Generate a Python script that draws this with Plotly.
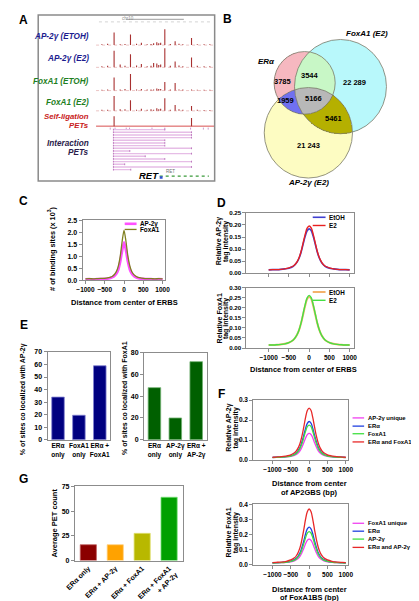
import numpy as np
import plotly.graph_objects as go

W, H = 419, 601
FONT = "Liberation Sans"
FRAME = "#8c8c8c"


def px(x):
    return x / W


def py(y):
    return 1 - y / H


def dx(l, r):
    return [l / W, r / W]


def dy(t, b):
    return [1 - b / H, 1 - t / H]


# ------------------------------------------------------------------ data
# Panel A (genome browser view, positions in kb, signal heights in arbitrary units)
A_peak_kb = [17.7, 34.7, 58.7, 70.3, 81.0, 98.0]
A_ap2_etoh = [12.7, 10.7, 2.0, 16.0, 4.0, 7.3]
A_ap2_e2 = [16.7, 13.3, 4.3, 19.3, 6.0, 10.0]
A_fox_etoh = [13.3, 16.7, 1.0, 8.7, 7.7, 1.0]
A_fox_e2 = [15.0, 10.7, 1.0, 12.7, 6.0, 5.0]
A_selflig = [10.0, 0.0, 0.0, 0.0, 0.0, 8.3]
A_minor_kb = [5, 11, 24, 29, 41, 46, 52, 56, 62, 64, 66, 76, 85, 89, 104, 111, 117]
A_minor_ap2_etoh = [1.0, 1.5, 1.0, 1.2, 1.5, 2.5, 1.0, 1.2, 3.0, 2.0, 2.5, 1.2, 1.5, 1.0, 1.0, 1.0, 0.8]
A_minor_ap2_e2 = [1.2, 1.5, 3.0, 1.5, 2.0, 3.5, 1.2, 1.5, 4.0, 2.5, 3.0, 1.5, 2.0, 1.2, 1.5, 1.0, 1.0]
A_minor_fox_etoh = [0.8, 1.0, 1.0, 1.5, 1.0, 1.5, 1.0, 1.0, 2.0, 1.5, 1.5, 1.0, 1.0, 1.0, 0.8, 0.8, 0.8]
A_minor_fox_e2 = [1.0, 1.2, 1.5, 1.5, 1.2, 2.0, 1.0, 1.5, 2.5, 1.5, 2.0, 1.2, 1.5, 1.0, 1.0, 0.8, 0.8]
A_sl_marks_kb = [13.7, 18.7, 30.3, 33.7, 57.0, 70.3, 97.0, 110.3, 115.3]
A_int_start_kb = [17, 17, 17, 17, 17, 17, 17, 17, 17, 17, 17, 17, 17, 17, 17, 17]
A_int_end_kb = [70.3, 98, 98, 98, 70.3, 70.3, 70.3, 98, 34, 98, 50, 70.3, 98, 28.7, 98, 35]
A_track_labels = ["AP-2γ (ETOH)", "AP-2γ (E2)", "FoxA1 (ETOH)", "FoxA1 (E2)"]

# Panel B (Venn counts)
venn_sets = ["ERα", "FoxA1 (E2)", "AP-2γ (E2)"]
venn_regions = ["ERα only", "ERα+FoxA1", "FoxA1 only", "ERα+AP-2γ", "all three",
                "FoxA1+AP-2γ", "AP-2γ only"]
venn_counts = [3785, 3544, 22289, 1959, 5166, 5461, 21243]

# Panels C, D, F: distance grid (bp)
dist_bp = [-1000, -900, -800, -700, -600, -500, -400, -350, -300, -250, -200, -150, -100, -50, 0,
           50, 100, 150, 200, 250, 300, 350, 400, 500, 600, 700, 800, 900, 1000]
dist_ticks = [-1000, -500, 0, 500, 1000]

# Panel C (# of binding sites x10^3)
C_ap2 = [0.04, 0.05, 0.04, 0.05, 0.05, 0.06, 0.08, 0.10, 0.13, 0.18, 0.27, 0.44, 0.76, 1.22, 1.58,
         1.24, 0.78, 0.45, 0.28, 0.19, 0.13, 0.10, 0.08, 0.06, 0.05, 0.05, 0.04, 0.05, 0.04]
C_fox = [0.06, 0.07, 0.06, 0.07, 0.08, 0.08, 0.11, 0.13, 0.17, 0.24, 0.36, 0.58, 0.98, 1.60, 2.08,
         1.62, 1.00, 0.60, 0.37, 0.25, 0.18, 0.13, 0.11, 0.08, 0.07, 0.07, 0.06, 0.07, 0.06]

# Panel D
D_ap2_etoh = [0.014, 0.015, 0.015, 0.016, 0.018, 0.021, 0.028, 0.035, 0.046, 0.062, 0.087, 0.120, 0.152, 0.176, 0.184,
              0.177, 0.153, 0.121, 0.088, 0.063, 0.046, 0.035, 0.028, 0.021, 0.018, 0.016, 0.015, 0.015, 0.014]
D_ap2_e2 = [0.014, 0.015, 0.015, 0.016, 0.018, 0.022, 0.029, 0.036, 0.047, 0.064, 0.090, 0.125, 0.160, 0.187, 0.196,
            0.188, 0.161, 0.126, 0.091, 0.065, 0.048, 0.036, 0.029, 0.022, 0.018, 0.016, 0.015, 0.015, 0.014]
D_fox_etoh = [0.015, 0.015, 0.016, 0.018, 0.021, 0.027, 0.039, 0.050, 0.066, 0.089, 0.123, 0.166, 0.210, 0.244, 0.255,
              0.245, 0.211, 0.167, 0.124, 0.090, 0.066, 0.050, 0.039, 0.027, 0.021, 0.018, 0.016, 0.015, 0.015]
D_fox_e2 = [0.015, 0.015, 0.016, 0.018, 0.021, 0.027, 0.039, 0.050, 0.066, 0.090, 0.125, 0.170, 0.215, 0.250, 0.262,
            0.251, 0.216, 0.171, 0.126, 0.091, 0.066, 0.050, 0.039, 0.027, 0.021, 0.018, 0.016, 0.015, 0.015]

# Panel E
E_ap2_cats = ["ERα<br>only", "FoxA1<br>only", "ERα +<br>FoxA1"]
E_ap2_vals = [34, 19.5, 59]
E_fox_cats = ["ERα<br>only", "AP-2γ<br>only", "ERα +<br>AP-2γ"]
E_fox_vals = [48, 20, 72]

# Panel F
F_ap2_names = ["AP-2γ unique", "ERα", "FoxA1", "ERα and FoxA1"]
F_ap2_unique = [0.012, 0.013, 0.013, 0.014, 0.016, 0.018, 0.023, 0.028, 0.035, 0.046, 0.063, 0.085, 0.109, 0.127, 0.133,
                0.128, 0.110, 0.086, 0.064, 0.046, 0.035, 0.028, 0.023, 0.018, 0.016, 0.014, 0.013, 0.013, 0.012]
F_ap2_er = [0.013, 0.014, 0.015, 0.016, 0.018, 0.022, 0.029, 0.036, 0.047, 0.063, 0.089, 0.121, 0.157, 0.184, 0.193,
            0.185, 0.158, 0.122, 0.090, 0.064, 0.047, 0.036, 0.029, 0.022, 0.018, 0.016, 0.015, 0.014, 0.013]
F_ap2_fox = [0.012, 0.013, 0.014, 0.015, 0.017, 0.020, 0.027, 0.033, 0.043, 0.058, 0.080, 0.110, 0.142, 0.167, 0.175,
             0.168, 0.143, 0.111, 0.081, 0.058, 0.043, 0.033, 0.027, 0.020, 0.017, 0.015, 0.014, 0.013, 0.012]
F_ap2_erfox = [0.014, 0.015, 0.016, 0.018, 0.021, 0.026, 0.036, 0.046, 0.061, 0.083, 0.117, 0.162, 0.211, 0.248, 0.260,
               0.249, 0.212, 0.163, 0.118, 0.084, 0.061, 0.046, 0.036, 0.026, 0.021, 0.018, 0.016, 0.015, 0.014]
F_fox_names = ["FoxA1 unique", "ERα", "AP-2γ", "ERα and AP-2γ"]
F_fox_unique = [0.012, 0.013, 0.014, 0.014, 0.017, 0.020, 0.026, 0.033, 0.042, 0.056, 0.078, 0.107, 0.138, 0.162, 0.170,
                0.163, 0.139, 0.108, 0.079, 0.056, 0.042, 0.033, 0.026, 0.020, 0.017, 0.014, 0.014, 0.013, 0.012]
F_fox_er = [0.013, 0.014, 0.015, 0.017, 0.020, 0.025, 0.034, 0.044, 0.058, 0.079, 0.113, 0.155, 0.203, 0.238, 0.250,
            0.239, 0.204, 0.156, 0.114, 0.080, 0.058, 0.044, 0.034, 0.025, 0.020, 0.017, 0.015, 0.014, 0.013]
F_fox_ap2 = [0.012, 0.013, 0.014, 0.015, 0.018, 0.022, 0.031, 0.039, 0.052, 0.070, 0.099, 0.137, 0.178, 0.210, 0.220,
             0.211, 0.179, 0.138, 0.100, 0.070, 0.052, 0.039, 0.031, 0.022, 0.018, 0.015, 0.014, 0.013, 0.012]
F_fox_erap2 = [0.014, 0.016, 0.018, 0.019, 0.025, 0.032, 0.046, 0.060, 0.082, 0.114, 0.164, 0.228, 0.299, 0.352, 0.370,
               0.353, 0.300, 0.229, 0.165, 0.115, 0.082, 0.060, 0.046, 0.032, 0.025, 0.019, 0.018, 0.016, 0.014]

# Panel G
G_cats = ["ERα only", "ERα + AP-2γ", "ERα + FoxA1", "ERα + FoxA1<br>+ AP-2γ"]
G_vals = [16, 16, 27.5, 64]

# ------------------------------------------------------------------ styles
NAVY = "#1c1c8f"
DGREEN = "#1f7f1f"
RED = "#c82020"
PURPLE = "#2b1b4b"
MAG = "#f040f0"
BLUE = "#2040e0"
LGREEN = "#40e040"
LRED = "#e82828"

fig = go.Figure()


def add(tr):
    tr.update(showlegend=False, hoverinfo="skip")
    fig.add_trace(tr)


# ------------------------------------------------------------------ Panel A
TRACK_BASE = [33.5, 56.0, 79.5, 100.0, 115.5]
tracks = [A_ap2_etoh, A_ap2_e2, A_fox_etoh, A_fox_e2, A_selflig]
minors = [A_minor_ap2_etoh, A_minor_ap2_e2, A_minor_fox_etoh, A_minor_fox_e2, None]

# top ruler
add(go.Scatter(x=[2, 120], y=[10, 10], mode="lines", line=dict(color="#c8c8c8", width=0.8, dash="dot"),
               xaxis="x", yaxis="y"))
add(go.Scatter(x=[30, 90], y=[7.5, 7.5], mode="lines", line=dict(color="#b0b0b0", width=1.2),
               xaxis="x", yaxis="y"))

for i, (base, hts, mn) in enumerate(zip(TRACK_BASE, tracks, minors)):
    if mn is not None:
        add(go.Scatter(x=[-1, 121], y=[base, base], mode="lines",
                       line=dict(color="#e2aaaa", width=0.7, dash="dot"), xaxis="x", yaxis="y"))
    else:
        add(go.Scatter(x=[-1, 123], y=[base, base], mode="lines",
                       line=dict(color="#d85050", width=1), xaxis="x", yaxis="y"))
    xs, ys = [], []
    for p, h in zip(A_peak_kb, hts):
        if h > 0:
            xs += [p, p, None]
            ys += [base, base - h, None]
    if mn is not None:
        for p, h in zip(A_minor_kb, mn):
            xs += [p, p, None]
            ys += [base, base - h, None]
    add(go.Scatter(x=xs, y=ys, mode="lines", line=dict(color="#a83030", width=1.1), xaxis="x", yaxis="y"))

# self-ligation marks below axis
xs, ys = [], []
for p in A_sl_marks_kb:
    xs += [p, p, None]
    ys += [117, 119, None]
add(go.Scatter(x=xs, y=ys, mode="lines", line=dict(color="#c080c0", width=0.8), xaxis="x", yaxis="y"))

# interaction PETs
xs, ys, mx, my = [], [], [], []
for k, (s, e) in enumerate(zip(A_int_start_kb, A_int_end_kb)):
    yy = 119.0 + k * 2.7
    xs += [s, e, None]
    ys += [yy, yy, None]
    for q in (s, e):
        mx += [q, q, None]
        my += [yy - 0.9, yy + 0.9, None]
add(go.Scatter(x=xs, y=ys, mode="lines", line=dict(color="#e6bde6", width=1.4), xaxis="x", yaxis="y"))
add(go.Scatter(x=mx, y=my, mode="lines", line=dict(color="#b060b0", width=0.8), xaxis="x", yaxis="y"))

# RET gene model
add(go.Scatter(x=[65, 116], y=[166, 166], mode="lines", line=dict(color="#3a9a3a", width=1.2, dash="dot"),
               xaxis="x", yaxis="y"))
add(go.Scatter(x=[65, 68], y=[167.5, 167.5], mode="lines", line=dict(color="#3050d0", width=2.5),
               xaxis="x", yaxis="y"))

# ------------------------------------------------------------------ Panel B (Venn)
CIRC = [(298.3, 71.7, 31.7), (335.5, 75.5, 47.7), (302.2, 122.2, 45.8)]
gx = np.arange(250.25, 410, 0.5)
gy = np.arange(15.25, 180, 0.5)
GX, GY = np.meshgrid(gx, gy)
inE, inF, inA = [((GX - cx) ** 2 + (GY - cy) ** 2) <= r ** 2 for cx, cy, r in CIRC]
code = np.full(GX.shape, np.nan)
code[inE & ~inF & ~inA] = 1
code[inE & inF & ~inA] = 2
code[~inE & inF & ~inA] = 3
code[inE & ~inF & inA] = 4
code[inE & inF & inA] = 5
code[~inE & inF & inA] = 6
code[~inE & ~inF & inA] = 7
VCOL = ["#f6b8c0", "#c8f7c6", "#b8f8fb", "#7070f0", "#b8b8b8", "#b5b000", "#fdfcc2"]
cs = []
for k, c in enumerate(VCOL):
    cs += [[k / 7, c], [(k + 1) / 7, c]]
add(go.Heatmap(x=gx, y=gy, z=code, colorscale=cs, zmin=0.5, zmax=7.5, showscale=False,
               xaxis="x2", yaxis="y2"))
VPOS = [(275.7, 70), (304.3, 64), (350, 71), (278.3, 89.3), (307.3, 87.3), (328.3, 107.3), (302, 135)]

# ------------------------------------------------------------------ Panel C
add(go.Scatter(x=dist_bp, y=C_ap2, mode="lines", line=dict(color="#ff50ff", width=2.6, shape="spline", smoothing=0.6),
               xaxis="x3", yaxis="y3"))
add(go.Scatter(x=dist_bp, y=C_fox, mode="lines", line=dict(color="#7f7f1f", width=1.3, shape="spline", smoothing=0.6),
               xaxis="x3", yaxis="y3"))

# ------------------------------------------------------------------ Panel D
add(go.Scatter(x=dist_bp, y=D_ap2_etoh, mode="lines", line=dict(color="#4040d0", width=1.6, shape="spline"),
               xaxis="x4", yaxis="y4"))
add(go.Scatter(x=dist_bp, y=D_ap2_e2, mode="lines", line=dict(color="#e82020", width=1.4, shape="spline"),
               xaxis="x4", yaxis="y4"))
add(go.Scatter(x=dist_bp, y=D_fox_etoh, mode="lines", line=dict(color="#f4b26a", width=2.0, shape="spline"),
               xaxis="x5", yaxis="y5"))
add(go.Scatter(x=dist_bp, y=D_fox_e2, mode="lines", line=dict(color="#44e044", width=1.4, shape="spline"),
               xaxis="x5", yaxis="y5"))

# ------------------------------------------------------------------ Panel E
add(go.Bar(x=E_ap2_cats, y=E_ap2_vals, width=0.6, marker=dict(color="#000080", line=dict(color="#8080d0", width=0.8)),
           xaxis="x6", yaxis="y6"))
add(go.Bar(x=E_fox_cats, y=E_fox_vals, width=0.6, marker=dict(color="#006000", line=dict(color="#70b070", width=0.8)),
           xaxis="x7", yaxis="y7"))

# ------------------------------------------------------------------ Panel F
FCOL = [MAG, BLUE, LGREEN, LRED]
for ser, c in zip([F_ap2_unique, F_ap2_er, F_ap2_fox, F_ap2_erfox], FCOL):
    add(go.Scatter(x=dist_bp, y=ser, mode="lines", line=dict(color=c, width=1.3, shape="spline"),
                   xaxis="x8", yaxis="y8"))
for ser, c in zip([F_fox_unique, F_fox_er, F_fox_ap2, F_fox_erap2], FCOL):
    add(go.Scatter(x=dist_bp, y=ser, mode="lines", line=dict(color=c, width=1.3, shape="spline"),
                   xaxis="x9", yaxis="y9"))

# ------------------------------------------------------------------ Panel G
G_COL = ["#8b0000", "#ffa200", "#b8b800", "#00a000"]
G_EDGE = ["#c06060", "#ffd080", "#e0e070", "#70e070"]
add(go.Bar(x=G_cats, y=G_vals, width=0.6, marker=dict(color=G_COL, line=dict(color=G_EDGE, width=0.8)),
           xaxis="x10", yaxis="y10"))

# ------------------------------------------------------------------ layout
TF = dict(family=FONT, size=7, color="black", weight="bold")
TFS = dict(family=FONT, size=6.5, color="black", weight="bold")
TFX = dict(family=FONT, size=6.2, color="black", weight="bold")


def ax(domain, rng, anchor, **kw):
    d = dict(domain=domain, range=rng, anchor=anchor, showline=True, mirror=True, linecolor=FRAME,
             linewidth=1, ticks="outside", ticklen=3, tickcolor=FRAME, tickwidth=1, showgrid=False,
             zeroline=False, tickfont=TF, fixedrange=True, tickangle=0)
    d.update(kw)
    return d


layout = dict(
    width=W, height=H, margin=dict(l=0, r=0, t=0, b=0), paper_bgcolor="white", plot_bgcolor="white",
    showlegend=False, font=dict(family=FONT, size=7, color="black"),
    xaxis=dict(domain=dx(22, 205), range=[-61, 122], visible=False, anchor="y", fixedrange=True),
    yaxis=dict(domain=dy(3, 171), range=[171, 3], visible=False, anchor="x", fixedrange=True),
    xaxis2=dict(domain=dx(250, 410), range=[250, 410], visible=False, anchor="y2", fixedrange=True),
    yaxis2=dict(domain=dy(15, 180), range=[180, 15], visible=False, anchor="x2", fixedrange=True),
    xaxis3=ax(dx(68, 154), [-1075, 1075], "y3", tickvals=dist_ticks, tickfont=TFS),
    yaxis3=ax(dy(210.5, 271.5), [0, 2.5], "x3", dtick=0.5, tickformat=".1f"),
    xaxis4=ax(dx(238, 349), [-1548, 1095], "y4", tickvals=dist_ticks, showticklabels=False),
    yaxis4=ax(dy(203.3, 264.3), [0, 0.25], "x4", dtick=0.05, tickformat=".2f", tickfont=TFX),
    xaxis5=ax(dx(238, 349), [-1548, 1095], "y5", tickvals=dist_ticks, tickfont=TFS),
    yaxis5=ax(dy(279, 340), [0, 0.30], "x5", dtick=0.05, tickformat=".2f", tickfont=TFX),
    xaxis6=ax(dx(31.7, 96.7), [-0.5, 2.5], "y6", type="category", ticks="", tickfont=TFS),
    yaxis6=ax(dy(344, 432.7), [0, 70], "x6", dtick=10),
    xaxis7=ax(dx(131.7, 196.7), [-0.5, 2.5], "y7", type="category", ticks="", tickfont=TFS),
    yaxis7=ax(dy(345, 432.7), [0, 80], "x7", dtick=20),
    xaxis8=ax(dx(245, 343), [-1526, 1053], "y8", tickvals=dist_ticks, tickfont=TFS),
    yaxis8=ax(dy(392.7, 453.3), [0, 0.3], "x8", dtick=0.1, tickformat=".1f", tickfont=TFS),
    xaxis9=ax(dx(245, 343), [-1526, 1053], "y9", tickvals=dist_ticks, tickfont=TFS),
    yaxis9=ax(dy(498.3, 559.3), [0, 0.4], "x9", dtick=0.1, tickformat=".1f", tickfont=TFS),
    xaxis10=ax(dx(60, 171.7), [-0.5, 3.5], "y10", type="category", ticks="", tickangle=-45),
    yaxis10=ax(dy(480, 555), [0, 75], "x10", dtick=25),
)

annotations = []
shapes = []


def ann(x, y, text, size=7.5, color="black", angle=0, xanchor="center", italic=False, bold=True):
    f = dict(family=FONT, size=size, color=color)
    if bold:
        f["weight"] = "bold"
    if italic:
        f["style"] = "italic"
    annotations.append(dict(x=px(x), y=py(y), xref="paper", yref="paper", text=text, showarrow=False,
                            font=f, textangle=angle, xanchor=xanchor, yanchor="middle"))


# panel letters
for letter, x, y in [("A", 7, 8), ("B", 218, 7), ("C", 7, 191), ("D", 212, 193), ("E", 7, 317),
                     ("F", 212, 386), ("G", 7, 473)]:
    ann(x, y, letter, size=12)

# Panel A box & labels
shapes.append(dict(type="rect", xref="paper", yref="paper", x0=px(22), x1=px(205), y0=py(171), y1=py(3),
                   line=dict(color="#8a8a8a", width=1.5)))
A_lab_y = [25, 47, 70, 92]
A_lab_c = [NAVY, NAVY, DGREEN, DGREEN]
for t, y, c in zip(A_track_labels, A_lab_y, A_lab_c):
    ann(77, y, t, size=8.2, color=c, xanchor="right", italic=True)
ann(77, 105.6, "Self-ligation", size=7.8, color=RED, xanchor="right", italic=True)
ann(77, 114.8, "PETs", size=7.8, color=RED, xanchor="right", italic=True)
ann(77, 133, "Interaction", size=8.2, color=PURPLE, xanchor="right", italic=True)
ann(77, 142.5, "PETs", size=8.2, color=PURPLE, xanchor="right", italic=True)
ann(137, 165, "RET", size=9.5, italic=True)
ann(152, 161.5, "RET", size=4.5, color="#707070", bold=False, xanchor="left")
ann(115, 6.5, "chr10", size=4.5, color="#909090", bold=False)

# Panel B circles and labels
for cx, cy, r in CIRC:
    shapes.append(dict(type="circle", xref="x2", yref="y2", x0=cx - r, x1=cx + r, y0=cy - r, y1=cy + r,
                       line=dict(color="#7a7a6a", width=0.8)))
ann(259, 50, venn_sets[0], size=8, italic=True)
ann(363, 22, venn_sets[1], size=8, italic=True)
ann(302, 173, venn_sets[2], size=8, italic=True)
for v, (x, y) in zip(venn_counts, VPOS):
    txt = f"{v:,}".replace(",", " ") if v >= 10000 else str(v)
    ann(x, y, txt, size=7.5)

# Panel C titles
ann(36, 239, "# of binding sites (x 10<sup>3</sup>)", size=7.3, angle=-90)
ann(111, 294, "Distance from center of ERBS", size=7.5)

# Panel D titles
ann(209.5, 232, "Relative AP-2γ", size=7, angle=-90)
ann(217.5, 232, "tag intensity", size=7, angle=-90)
ann(209.5, 310, "Relative FoxA1", size=7, angle=-90)
ann(217.5, 310, "tag intensity", size=7, angle=-90)
ann(297, 362, "Distance from center of ERBS", size=7.5)

# Panel E titles
ann(7, 392, "% of sites co localized with AP-2γ", size=7, angle=-90)
ann(111.5, 391, "% of sites co localized with FoxA1", size=7, angle=-90)

# Panel F titles
ann(219.5, 421, "Relative AP-2γ", size=7, angle=-90)
ann(227.5, 421, "tag intensity", size=7, angle=-90)
ann(303, 476.7, "Distance from center", size=7.5)
ann(303, 486, "of AP2GBS (bp)", size=7.5)
ann(219.5, 527, "Relative FoxA1", size=7, angle=-90)
ann(227.5, 527, "tag intensity", size=7, angle=-90)
ann(303, 584, "Distance from center", size=7.5)
ann(303, 592.5, "of FoxA1BS (bp)", size=7.5)

# Panel G title
ann(39, 517, "Average PET count", size=7.5, angle=-90)


def legend(x0, x1, items, size=6.3):
    for label, color, y, w in items:
        shapes.append(dict(type="line", xref="paper", yref="paper", x0=px(x0), x1=px(x1), y0=py(y), y1=py(y),
                           line=dict(color=color, width=w)))
        ann(x1 + 2, y, label, size=size, xanchor="left")


legend(111.7, 124, [("AP-2γ", "#ff50ff", 214.3, 2.6), ("FoxA1", "#7f7f1f", 220, 1.3)])
legend(306.7, 320, [("EtOH", "#4040d0", 207.7, 1.6), ("E2", "#e82020", 216, 1.4)])
legend(306.7, 320, [("EtOH", "#f4b26a", 283.3, 2.0), ("E2", "#44e044", 291.7, 1.4)])
legend(348, 360, [(n, c, y, 1.3) for n, c, y in zip(F_ap2_names, FCOL, [410.7, 419, 426.7, 435])], size=5.9)
legend(348, 360, [(n, c, y, 1.3) for n, c, y in zip(F_fox_names, FCOL, [517.3, 525.3, 533.3, 541.7])], size=5.9)

layout["annotations"] = annotations
layout["shapes"] = shapes
fig.update_layout(**layout)
fig.write_html("out.html")
